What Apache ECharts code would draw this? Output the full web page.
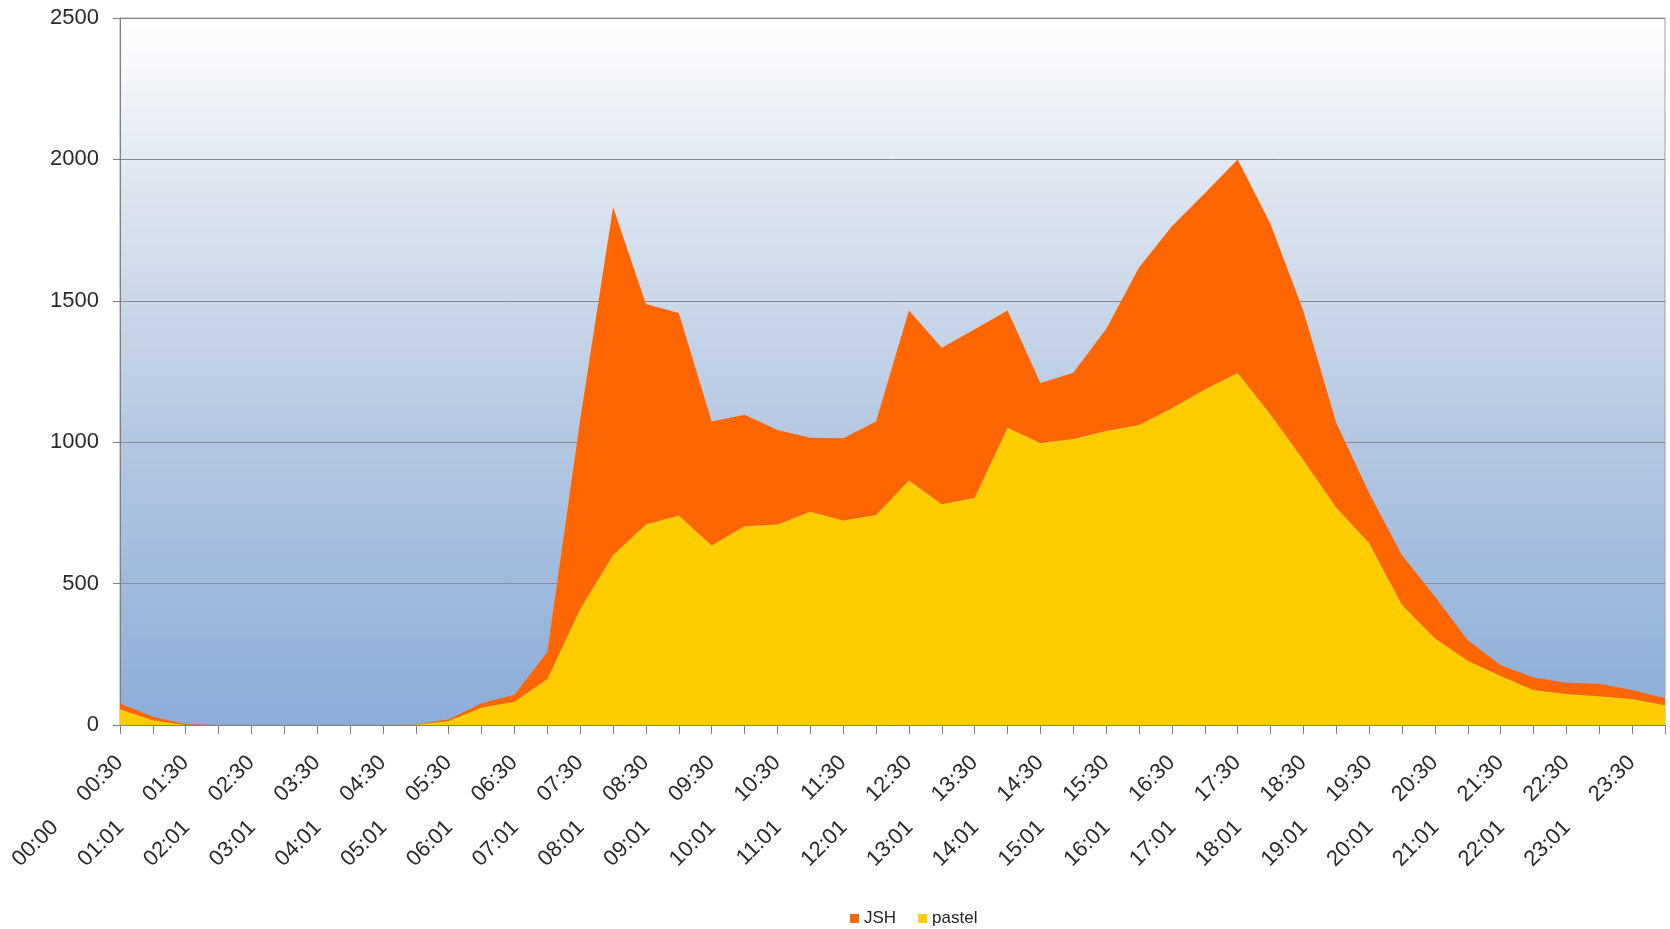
<!DOCTYPE html>
<html>
<head>
<meta charset="utf-8">
<title>JSH / pastel</title>
<script src="https://cdn.jsdelivr.net/npm/echarts@6/dist/echarts.min.js"></script>
<style>
  html, body { margin: 0; padding: 0; background: #fff; }
  #chart { width: 1670px; height: 929px; }
</style>
</head>
<body>
<div id="chart"></div>
<script>
// time slots on the x axis
const times = [
  '00:00', '00:30', '01:01', '01:30', '02:01', '02:30', '03:01', '03:30',
  '04:01', '04:30', '05:01', '05:30', '06:01', '06:30', '07:01', '07:30',
  '08:01', '08:30', '09:01', '09:30', '10:01', '10:30', '11:01', '11:30',
  '12:01', '12:30', '13:01', '13:30', '14:01', '14:30', '15:01', '15:30',
  '16:01', '16:30', '17:01', '17:30', '18:01', '18:30', '19:01', '19:30',
  '20:01', '20:30', '21:01', '21:30', '22:01', '22:30', '23:01', '23:30'
]

// bottom layer
const pastel = [
  56, 17, 0, 0, 0, 0, 0, 0, 0, 1, 14, 62, 82, 163, 410, 601,
  709, 741, 635, 703, 709, 754, 723, 743, 865, 781, 804, 1051, 997, 1011, 1040, 1061,
  1120, 1186, 1245, 1098, 937, 769, 644, 425, 307, 227, 173, 124, 110, 102, 92, 70
]

// stacked on top of pastel
const jsh = [
  20, 12, 3, 0, 0, 0, 0, 0, 0, 1, 6, 15, 25, 95, 670, 1230,
  780, 716, 438, 394, 334, 262, 291, 330, 601, 553, 595, 415, 212, 235, 360, 557,
  644, 694, 755, 674, 527, 300, 176, 175, 147, 73, 39, 44, 39, 44, 32, 25
]

const yTicks = [0, 500, 1000, 1500, 2000, 2500]

const chart = echarts.init(document.getElementById('chart'))

const gridBox = {
  left: 120,
  right: 5,
  top: 18,
  bottom: 204,
  containLabel: false,
  outerBoundsMode: 'none'
}

const labelFont = {
  fontFamily: 'Liberation Sans, Arial, sans-serif',
  fontSize: 22,
  color: '#2a2a2a'
}

chart.setOption({
  animation: false,
  backgroundColor: '#ffffff',
  legend: {
    data: ['JSH', 'pastel'],
    left: 845,
    top: 905,
    itemWidth: 9,
    itemHeight: 9,
    itemGap: 22,
    icon: 'rect',
    textStyle: {
      fontFamily: 'Liberation Sans, Arial, sans-serif',
      fontSize: 17,
      color: '#222'
    }
  },
  grid: [
    Object.assign({
      show: true,
      borderColor: '#9aa0a8',
      borderWidth: 1,
      backgroundColor: {
        type: 'linear',
        x: 0, y: 0, x2: 0, y2: 1,
        colorStops: [
          { offset: 0, color: '#ffffff' },
          { offset: 0.25, color: '#dce4ef' },
          { offset: 0.6, color: '#b4c7e2' },
          { offset: 1, color: '#8badd9' }
        ]
      }
    }, gridBox),
    Object.assign({ show: false }, gridBox)
  ],
  xAxis: [
    {
      // odd slots, upper row of labels
      type: 'category',
      gridIndex: 0,
      data: times,
      boundaryGap: false,
      axisLine: { lineStyle: { color: '#808080', width: 1 } },
      axisTick: { show: true, interval: 0, length: 9, lineStyle: { color: '#808080' } },
      axisLabel: Object.assign({
        interval: (i) => i % 2 === 1,
        rotate: 45,
        margin: 1,
        padding: [0, 47, 0, 0]
      }, labelFont),
      splitLine: { show: false }
    },
    {
      // even slots, lower row of labels
      type: 'category',
      gridIndex: 1,
      data: times,
      boundaryGap: false,
      axisLine: { show: false },
      axisTick: { show: false },
      axisLabel: Object.assign({
        interval: (i) => i % 2 === 0,
        rotate: 45,
        margin: 34,
        padding: [0, 92, 0, 0]
      }, labelFont),
      splitLine: { show: false }
    }
  ],
  yAxis: [
    {
      type: 'value',
      gridIndex: 0,
      min: yTicks[0],
      max: yTicks[yTicks.length - 1],
      interval: 500,
      axisLine: { show: true, lineStyle: { color: '#808080' } },
      axisTick: { show: true, length: 7, lineStyle: { color: '#808080' } },
      axisLabel: Object.assign({ margin: 21, formatter: (v) => String(v) }, labelFont),
      splitLine: { show: true, lineStyle: { color: '#868b93', width: 1 } }
    },
    {
      type: 'value',
      gridIndex: 1,
      min: 0,
      max: 2500,
      show: false
    }
  ],
  series: [
    {
      name: 'pastel',
      type: 'line',
      stack: 'total',
      data: pastel,
      showSymbol: false,
      symbol: 'none',
      lineStyle: { width: 0 },
      itemStyle: { color: '#ffcc00' },
      areaStyle: { color: '#ffcc00', opacity: 1 },
      emphasis: { disabled: true }
    },
    {
      name: 'JSH',
      type: 'line',
      stack: 'total',
      data: jsh,
      showSymbol: false,
      symbol: 'none',
      lineStyle: { width: 0 },
      itemStyle: { color: '#ff6600' },
      areaStyle: { color: '#ff6600', opacity: 1 },
      emphasis: { disabled: true }
    }
  ]
})
</script>
</body>
</html>
